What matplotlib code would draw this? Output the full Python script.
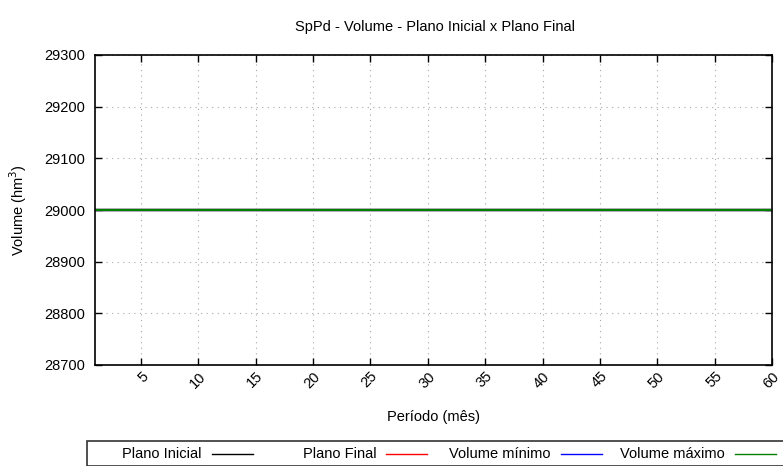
import matplotlib
matplotlib.use("Agg")
import matplotlib.pyplot as plt
from matplotlib.lines import Line2D
from matplotlib.patches import Rectangle
from matplotlib.transforms import ScaledTranslation

plt.rcParams["font.family"] = ["Liberation Sans", "DejaVu Sans"]
plt.rcParams["font.size"] = 10.5

periodo = list(range(1, 61))
plano_inicial = [29000] * 60
plano_final = [29000] * 60
volume_minimo = [29000] * 60
volume_maximo = [29000] * 60

series_names = ["Plano Inicial", "Plano Final", "Volume mínimo", "Volume máximo"]
series_colors = ["black", "red", "blue", "green"]
series_values = [plano_inicial, plano_final, volume_minimo, volume_maximo]

x_ticks = list(range(5, 61, 5))
y_ticks = list(range(28700, 29301, 100))

W, H = 783, 466
fig = plt.figure(figsize=(W / 100, H / 100), dpi=100)
ax = fig.add_axes([95 / W, 1 - 365 / H, (772 - 95) / W, (365 - 55) / H])

for name, color, vals in zip(series_names, series_colors, series_values):
    ax.plot(periodo, vals, color=color, lw=1.6, label=name)

ax.set_xlim(1, 60)
ax.set_ylim(28700, 29300)
ax.set_xticks(x_ticks)
ax.set_yticks(y_ticks)
ax.tick_params(direction="in", top=True, right=True, length=5, width=1,
               labelsize=10.5, pad=7)
ax.tick_params(axis="x", pad=8)
ax.set_xticklabels([str(t) for t in x_ticks], rotation=45, ha="right",
                   va="center", rotation_mode="anchor")
# nudge rotated labels to the right, like gnuplot places them
shift = ScaledTranslation(5 / 100, 2 / 100, fig.dpi_scale_trans)
for lbl in ax.get_xticklabels():
    lbl.set_transform(lbl.get_transform() + shift)
ax.grid(True, color="#a8a8a8", linestyle=(0, (1, 4)), lw=0.8)
ax.set_axisbelow(True)
for s in ax.spines.values():
    s.set_linewidth(1.2)

ax.set_xlabel("Período (mês)", labelpad=14)
ax.set_ylabel("Volume (hm$^3$)", labelpad=11)
fig.text(435 / W, 1 - 27 / H, "SpPd - Volume - Plano Inicial x Plano Final",
         ha="center", va="center", fontsize=10.5)

# legend box at the bottom, gnuplot style
fig.patches.append(Rectangle((87 / W, 0), 720 / W, (466 - 441) / H,
                             transform=fig.transFigure, fill=False,
                             edgecolor="#333333", lw=1.2))
for i, (name, color) in enumerate(zip(series_names, series_colors)):
    x0 = 202 + 174.3 * i
    ty = 1 - 454 / H
    fig.text(x0 / W, ty, name, ha="right", va="center", fontsize=10.5)
    fig.lines.append(Line2D([(x0 + 10) / W, (x0 + 51) / W], [ty, ty],
                            transform=fig.transFigure, color=color, lw=1))

fig.savefig("out.png", dpi=100)
